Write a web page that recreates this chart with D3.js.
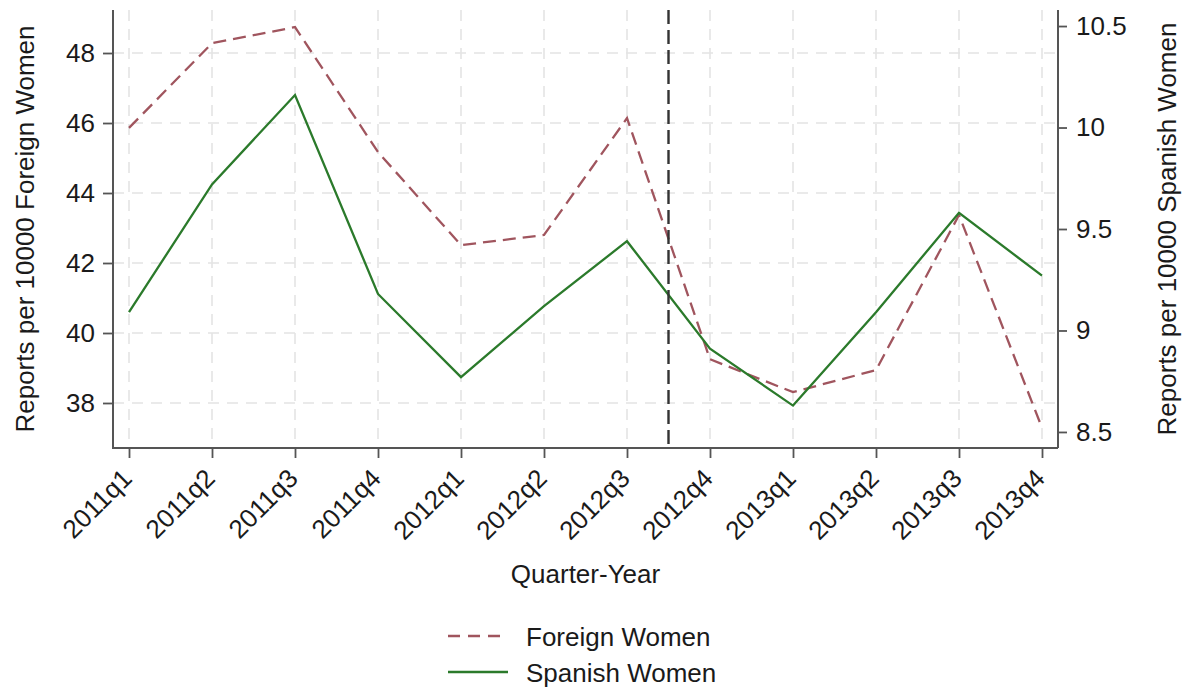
<!DOCTYPE html>
<html>
<head>
<meta charset="utf-8">
<script src="https://cdn.jsdelivr.net/npm/d3@7"></script>
<style>
  html, body { margin: 0; padding: 0; background: #fff; }
  svg { display: block; }
  text { font-family: "Liberation Sans", Arial, sans-serif; fill: #1a1a1a; }
</style>
</head>
<body>
<svg id="chart" width="1184" height="688"></svg>
<script>
// Quarterly report rates, 2011q1 - 2013q4
const quarters = ["2011q1","2011q2","2011q3","2011q4","2012q1","2012q2","2012q3","2012q4","2013q1","2013q2","2013q3","2013q4"];
const foreignWomen = [45.86, 48.28, 48.74, 45.17, 42.51, 42.80, 46.14, 39.25, 38.31, 38.94, 43.37, 37.29];
const spanishWomen = [9.09, 9.72, 10.16, 9.18, 8.77, 9.12, 9.44, 8.91, 8.63, 9.09, 9.58, 9.27];
const leftTicks = [38, 40, 42, 44, 46, 48];
const rightTicks = [8.5, 9, 9.5, 10, 10.5];
const breakAfter = "2012q3"; // reference line drawn between 2012q3 and 2012q4
const legendItems = [
  { label: "Foreign Women", key: "foreign" },
  { label: "Spanish Women", key: "spanish" }
];

const svg = d3.select("#chart");
const plot = { left: 113, right: 1058, top: 10, bottom: 448 };

const x = d3.scalePoint().domain(quarters).range([129, 1042]);
const yL = d3.scaleLinear().domain([36.714, 49.229]).range([plot.bottom, plot.top]);
const yR = d3.scaleLinear().domain([8.421, 10.579]).range([plot.bottom, plot.top]);

const styles = {
  foreign: { color: "#a0555e", dash: "13,7", width: 2.3 },
  spanish: { color: "#2b7a2b", dash: null, width: 2.3 }
};

const fontSize = "26px";

// grid
const grid = svg.append("g").attr("stroke", "#e4e4e4").attr("stroke-width", 1.6).attr("stroke-dasharray", "11,8");
grid.selectAll("line.h").data(leftTicks).join("line")
  .attr("x1", plot.left).attr("x2", plot.right)
  .attr("y1", d => yL(d)).attr("y2", d => yL(d));
grid.selectAll("line.v").data(quarters).join("line")
  .attr("x1", d => x(d)).attr("x2", d => x(d))
  .attr("y1", plot.top).attr("y2", plot.bottom);

// series
const lineL = d3.line().x((d, i) => x(quarters[i])).y(d => yL(d));
const lineR = d3.line().x((d, i) => x(quarters[i])).y(d => yR(d));

svg.append("path").datum(foreignWomen)
  .attr("d", lineL).attr("fill", "none")
  .attr("stroke", styles.foreign.color).attr("stroke-width", styles.foreign.width)
  .attr("stroke-dasharray", styles.foreign.dash);

svg.append("path").datum(spanishWomen)
  .attr("d", lineR).attr("fill", "none")
  .attr("stroke", styles.spanish.color).attr("stroke-width", styles.spanish.width);

// vertical reference line
const xBreak = (x(breakAfter) + x(quarters[quarters.indexOf(breakAfter) + 1])) / 2;
svg.append("line")
  .attr("x1", xBreak).attr("x2", xBreak).attr("y1", plot.top).attr("y2", plot.bottom)
  .attr("stroke", "#333").attr("stroke-width", 2.4).attr("stroke-dasharray", "14,6");

// axes
const axisColor = "#555";

const gL = svg.append("g").attr("transform", `translate(${plot.left},0)`)
  .call(d3.axisLeft(yL).tickValues(leftTicks).tickSize(10).tickPadding(8).tickFormat(d3.format("d")));
const gR = svg.append("g").attr("transform", `translate(${plot.right},0)`)
  .call(d3.axisRight(yR).tickValues(rightTicks).tickSize(9).tickPadding(9).tickFormat(d => String(d)));
const gB = svg.append("g").attr("transform", `translate(0,${plot.bottom})`)
  .call(d3.axisBottom(x).tickSize(10).tickPadding(4));

for (const g of [gL, gR, gB]) {
  g.select(".domain").attr("stroke", axisColor).attr("stroke-width", 2);
  g.selectAll(".tick line").attr("stroke", axisColor).attr("stroke-width", 1.8);
  g.selectAll(".tick text").attr("font-size", fontSize).attr("fill", "#1a1a1a")
    .attr("font-family", "Liberation Sans, Arial, sans-serif");
}
gL.select(".domain").attr("d", `M0,${plot.top}V${plot.bottom}H${plot.right - plot.left}`);
gR.select(".domain").attr("d", `M0,${plot.top}V${plot.bottom}`);
gB.select(".domain").remove();

gB.selectAll(".tick text")
  .attr("text-anchor", "end")
  .attr("x", 0).attr("y", 0).attr("dy", "0")
  .attr("transform", "translate(4,32) rotate(-45)");

// axis titles
svg.append("text").attr("transform", `translate(34,${(plot.top + plot.bottom) / 2}) rotate(-90)`)
  .attr("text-anchor", "middle").attr("font-size", fontSize).text("Reports per 10000 Foreign Women");
svg.append("text").attr("transform", `translate(1176,${(plot.top + plot.bottom) / 2}) rotate(-90)`)
  .attr("text-anchor", "middle").attr("font-size", fontSize).text("Reports per 10000 Spanish Women");
svg.append("text").attr("x", (plot.left + plot.right) / 2).attr("y", 583)
  .attr("text-anchor", "middle").attr("font-size", fontSize).text("Quarter-Year");

// legend
const lg = svg.append("g").attr("transform", "translate(448,636)");
legendItems.forEach((item, i) => {
  const s = styles[item.key];
  const row = lg.append("g").attr("transform", `translate(0,${i * 36})`);
  row.append("line").attr("x1", 0).attr("x2", 60).attr("y1", 0).attr("y2", 0)
    .attr("stroke", s.color).attr("stroke-width", s.width)
    .attr("stroke-dasharray", s.dash ? "12,8" : null);
  row.append("text").attr("x", 78).attr("y", 10)
    .attr("font-size", fontSize).text(item.label);
});
</script>
</body>
</html>
